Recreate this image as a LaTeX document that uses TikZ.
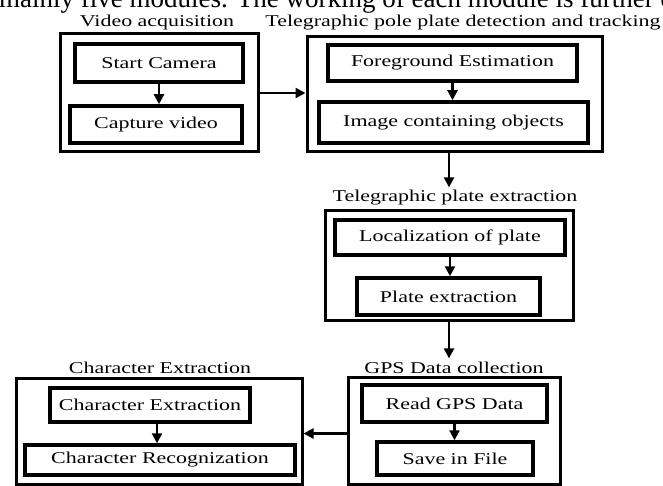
\documentclass[tikz,border=0pt]{standalone}
\usepackage{fontspec}
\setmainfont[FakeStretch=1.33]{Liberation Serif}
\newfontfamily\bodyfont{Liberation Serif}
\usetikzlibrary{arrows.meta}
\begin{document}
\begin{tikzpicture}[x=1pt,y=-1pt,
  obox/.style={draw, line width=3pt, inner sep=0pt},
  ibox/.style={draw, line width=3.5pt, inner sep=0pt, font=\fontsize{16.5}{18}\selectfont},
  lbl/.style={inner sep=0pt, anchor=base, font=\fontsize{16.5}{18}\selectfont},
  arr/.style={line width=2.2pt, -{Triangle[length=10pt,width=10pt]}}]
\useasboundingbox (0,0) rectangle (663,486);
\clip (0,0) rectangle (663,486);
\fill[white] (0,0) rectangle (663,486);

% cropped body text
\node[anchor=base west, inner sep=0pt, font=\bodyfont\fontsize{27}{30}\selectfont] (body) at (-1,8) {mainly five modules. The working of each module is further d};

% labels
\node[lbl] (l1) at (157,27) {Video acquisition};
\node[lbl] (l2) at (463,27) {Telegraphic pole plate detection and tracking};
\node[lbl] (l3) at (455,202) {Telegraphic plate extraction};
\node[lbl] (l5) at (454,373) {GPS Data collection};
\node[lbl] (l4) at (160,373) {Character Extraction};

% module 1
\node[obox, minimum width=198pt, minimum height=118pt] (b1) at (159,93) {};
\node[ibox, minimum width=168pt, minimum height=38pt] (sc) at (159,63) {Start Camera};
\node[ibox, minimum width=172pt, minimum height=37pt] (cv) at (156,124.5) {Capture video};

% module 2
\node[obox, minimum width=295pt, minimum height=115pt] (b2) at (454.5,94.5) {};
\node[ibox, minimum width=249pt, minimum height=36pt] (fe) at (452.5,63) {Foreground Estimation};
\node[ibox, minimum width=269pt, minimum height=41pt] (ico) at (453.5,122.5) {Image containing objects};

% module 3
\node[obox, minimum width=248pt, minimum height=109pt] (b3) at (449,265.5) {};
\node[ibox, minimum width=230pt, minimum height=35pt] (loc) at (450,237.5) {Localization of plate};
\node[ibox, minimum width=183pt, minimum height=37pt] (pe) at (448.5,296.5) {Plate extraction};

% module 5 (GPS)
\node[obox, minimum width=212pt, minimum height=107pt] (b5) at (454,430.5) {};
\node[ibox, minimum width=185pt, minimum height=37pt] (rg) at (454.5,403.5) {Read GPS Data};
\node[ibox, minimum width=156pt, minimum height=33pt] (sf) at (455,458.5) {Save in File};

% module 4 (characters)
\node[obox, minimum width=286pt, minimum height=106pt] (b4) at (159,431) {};
\node[ibox, minimum width=200pt, minimum height=34pt] (ce) at (150,405) {Character Extraction};
\node[ibox, minimum width=270pt, minimum height=30pt] (cr) at (160,460) {Character Recognization};

% connectors
\draw[arr] (sc.south) -- (sc.south |- cv.north);
\draw[arr] (fe.south) -- (fe.south |- ico.north);
\draw[arr] (loc.south) -- (loc.south |- pe.north);
\draw[arr] (rg.south) -- (rg.south |- sf.north);
\draw[arr] ([xshift=7pt]ce.south) -- ([xshift=7pt]ce.south |- cr.north);

\draw[arr] (b1.east) -- (b1.east -| b2.west);
\draw[arr] (b2.south -| b3.north) -- ([yshift=3pt]b3.north |- l3.north);
\draw[arr] (b3.south) -- ([yshift=3pt]b3.south |- l5.north);
\draw[arr] ([yshift=-3pt]b5.west) -- ([yshift=-3pt]b5.west -| b4.east);
\end{tikzpicture}
\end{document}
